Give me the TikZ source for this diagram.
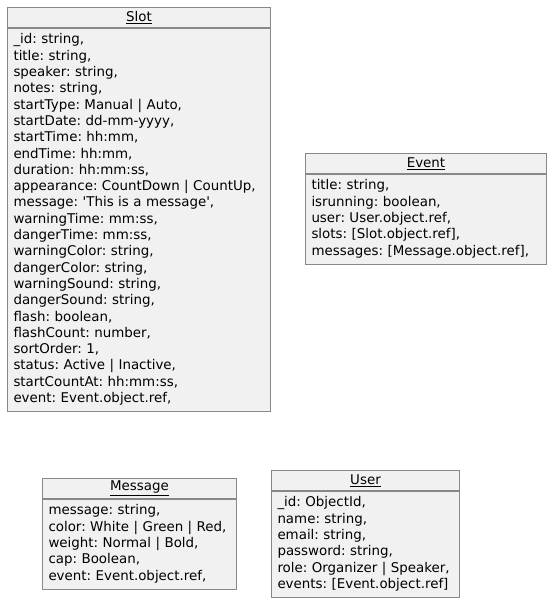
\documentclass[tikz,border=0pt]{standalone}
\usepackage{fontspec}
\setmainfont{DejaVu Sans}
\usepackage{tikz}
\usetikzlibrary{positioning}
\definecolor{objfill}{HTML}{F1F1F1}
\definecolor{objline}{HTML}{888888}
\newcommand{\attrlist}[1]{\begin{tabular}{@{}l@{}}#1\end{tabular}}
\tikzstyle{objtitle} = [draw=objline, fill=objfill, line width=1pt, rectangle, anchor=north west, minimum height=20pt, inner sep=0pt, text centered, font=\fontsize{13.4}{16.3}\selectfont]
\tikzstyle{objbody} = [draw=objline, fill=objfill, line width=1pt, rectangle, anchor=north, inner xsep=6pt, inner ysep=4pt, align=left, font=\fontsize{13.4}{16.3}\selectfont\frenchspacing]

\begin{document}
\begin{tikzpicture}
                \useasboundingbox (0,0) rectangle (550pt,-602pt);

                % Create Objects
                \node [objtitle, minimum width=263pt] (slot) at (7pt,-7pt) {\underline{Slot}};
                \node [objbody, text width=251pt, below=0pt of slot.south, anchor=north] (slotattr) {\attrlist{\_id: string,\\title: string,\\speaker: string,\\notes: string,\\startType: Manual | Auto,\\startDate: dd-mm-yyyy,\\startTime: hh:mm,\\endTime: hh:mm,\\duration: hh:mm:ss,\\appearance: CountDown | CountUp,\\message: \textquotesingle This is a message\textquotesingle,\\warningTime: mm:ss,\\dangerTime: mm:ss,\\warningColor: string,\\dangerColor: string,\\warningSound: string,\\dangerSound: string,\\flash: boolean,\\flashCount: number,\\sortOrder: 1,\\status: Active | Inactive,\\startCountAt: hh:mm:ss,\\event: Event.object.ref,}};

                \node [objtitle, minimum width=241pt] (event) at (305pt,-153pt) {\underline{Event}};
                \node [objbody, text width=229pt, below=0pt of event.south, anchor=north] (eventattr) {\attrlist{title: string,\\isrunning: boolean,\\user: User.object.ref,\\slots: [Slot.object.ref],\\messages: [Message.object.ref],}};

                \node [objtitle, minimum width=194pt] (message) at (42pt,-478pt) {\underline{Message}};
                \node [objbody, text width=182pt, below=0pt of message.south, anchor=north] (messageattr) {\attrlist{message: string,\\color: White | Green | Red,\\weight: Normal | Bold,\\cap: Boolean,\\event: Event.object.ref,}};

                \node [objtitle, minimum width=188pt] (user) at (271pt,-470pt) {\underline{User}};
                \node [objbody, text width=176pt, below=0pt of user.south, anchor=north] (userattr) {\attrlist{\_id: ObjectId,\\name: string,\\email: string,\\password: string,\\role: Organizer | Speaker,\\events: [Event.object.ref]}};
            \end{tikzpicture}
\end{document}
